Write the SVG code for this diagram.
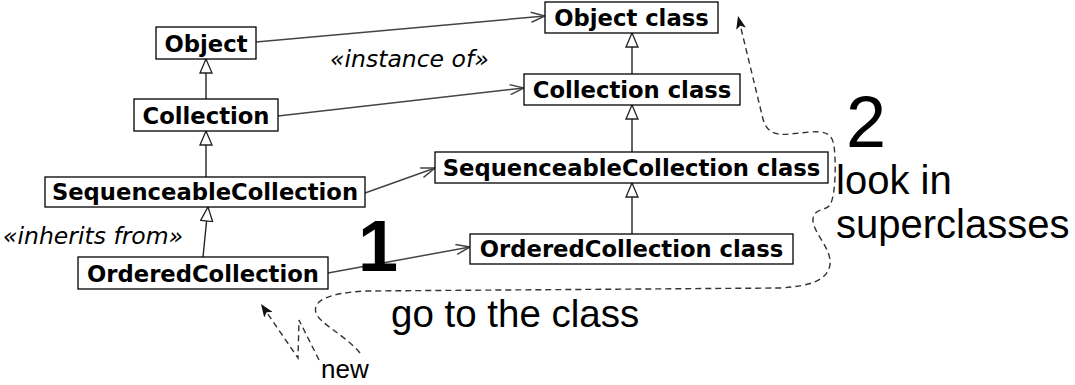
<svg xmlns="http://www.w3.org/2000/svg" width="1075" height="385" viewBox="0 0 1075 385">
  <style>
    .box { fill: #fff; stroke: #000; stroke-width: 1.3; }
    .lbl { font-family: "DejaVu Sans", "Liberation Sans", sans-serif; font-weight: bold; font-size: 22.7px; text-anchor: middle; fill: #000; }
    .stereo { font-family: "DejaVu Sans", "Liberation Sans", sans-serif; font-style: italic; font-size: 23.5px; fill: #000; }
    .note { font-family: "Liberation Sans", Arial, sans-serif; fill: #000; }
    .inherit { fill: none; stroke: #222; stroke-width: 1.4; marker-end: url(#tri); }
    .inst { fill: none; stroke: #444; stroke-width: 1.5; marker-end: url(#open); }
    .flow { fill: none; stroke: #333; stroke-width: 1.4; stroke-dasharray: 6 4; }
  </style>
  <defs>
    <!-- hollow triangle: generalisation -->
    <marker id="tri" markerUnits="userSpaceOnUse" markerWidth="16" markerHeight="14" viewBox="0 0 16 14" refX="15" refY="7" orient="auto">
      <path d="M1,1 L15,7 L1,13 Z" fill="#fff" stroke="#222" stroke-width="1.3"/>
    </marker>
    <!-- open V arrowhead: instance-of -->
    <marker id="open" markerUnits="userSpaceOnUse" markerWidth="16" markerHeight="12" viewBox="0 0 16 12" refX="15" refY="6" orient="auto">
      <path d="M1,1 L15,6 L1,11" fill="none" stroke="#444" stroke-width="1.5"/>
    </marker>
    <!-- filled arrowhead for the lookup path -->
    <marker id="solid" markerUnits="userSpaceOnUse" markerWidth="14" markerHeight="10" viewBox="0 0 14 10" refX="13" refY="5" orient="auto">
      <path d="M0,0 L13,5 L0,10 L3,5 Z" fill="#111"/>
    </marker>
  </defs>

  <g id="connectors">
    <!-- inheritance -->
    <path class="inherit" d="M206,99 L206,59"/>
    <path class="inherit" d="M206,177 L206,131"/>
    <path class="inherit" d="M203,257 L208,207"/>
    <path class="inherit" d="M632,74 L632,33"/>
    <path class="inherit" d="M632,152 L632,105"/>
    <path class="inherit" d="M632,234 L632,183"/>
    <!-- instance of -->
    <path class="inst" d="M256,42 L545,16"/>
    <path class="inst" d="M278,116 L524,88"/>
    <path class="inst" d="M365,193 L435,168"/>
    <path class="inst" d="M328,273 L470,247"/>
    <!-- message send and lookup -->
    <path class="flow" d="M319,360 L299,320 L298,358 L261,304" marker-end="url(#solid)"/>
    <path class="flow" d="M360,353 C345,335 320,324 316,313 C312,300 330,293 365,291 L780,288 C812,286 827,280 830,265 C832,248 812,232 813,219 C814,208 826,211 830,205 C836,195 836,160 834,146 C832,133 825,131 810,132 L790,134 C772,136 765,130 762,115 L738,16" marker-end="url(#solid)"/>
  </g>

  <g id="node-object">
    <rect class="box" x="156" y="27" width="100" height="32"/>
    <text class="lbl" x="206" y="52">Object</text>
  </g>
  <g id="node-collection">
    <rect class="box" x="134" y="99" width="144" height="32"/>
    <text class="lbl" x="206" y="124">Collection</text>
  </g>
  <g id="node-sequenceable">
    <rect class="box" x="45" y="177" width="320" height="30"/>
    <text class="lbl" x="205" y="200">SequenceableCollection</text>
  </g>
  <g id="node-ordered">
    <rect class="box" x="78" y="257" width="250" height="32"/>
    <text class="lbl" x="203" y="282">OrderedCollection</text>
  </g>
  <g id="node-object-class">
    <rect class="box" x="545" y="2" width="173" height="31"/>
    <text class="lbl" x="631.5" y="26">Object class</text>
  </g>
  <g id="node-collection-class">
    <rect class="box" x="524" y="74" width="216" height="31"/>
    <text class="lbl" x="632" y="98">Collection class</text>
  </g>
  <g id="node-sequenceable-class">
    <rect class="box" x="435" y="152" width="393" height="31"/>
    <text class="lbl" x="631.5" y="176">SequenceableCollection class</text>
  </g>
  <g id="node-ordered-class">
    <rect class="box" x="470" y="234" width="323" height="30"/>
    <text class="lbl" x="631.5" y="257">OrderedCollection class</text>
  </g>

  <g id="labels">
    <text class="stereo" x="330" y="67">«instance of»</text>
    <text class="stereo" x="3" y="244">«inherits from»</text>
    <text class="note" x="358" y="271" font-size="72" font-weight="bold">1</text>
    <text class="note" x="846" y="147" font-size="72">2</text>
    <text class="note" x="836" y="194" font-size="40">look in</text>
    <text class="note" x="836" y="238" font-size="40">superclasses</text>
    <text class="note" x="391" y="327" font-size="38.5">go to the class</text>
    <text class="note" x="321" y="378" font-size="26">new</text>
  </g>
</svg>
